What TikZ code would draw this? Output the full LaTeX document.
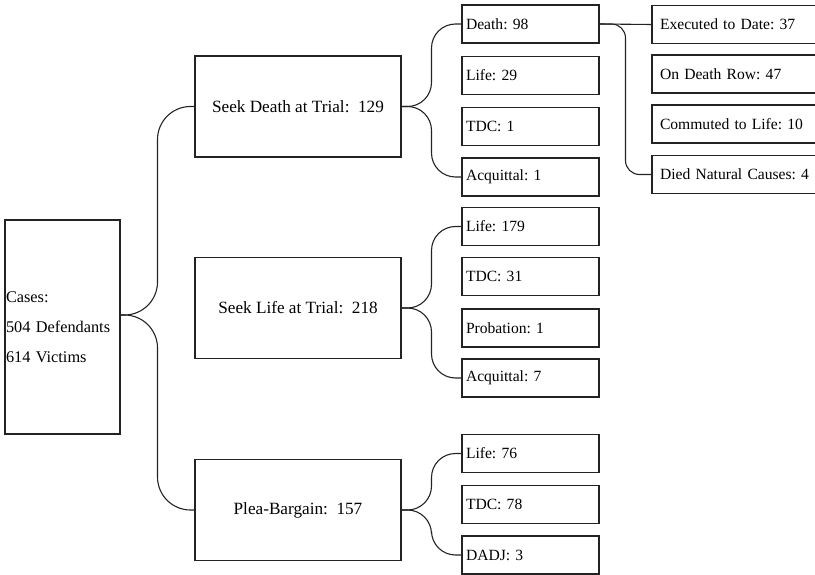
\documentclass[tikz,border=0pt]{standalone}
\usepackage{fontspec}
\setmainfont{Liberation Serif}
\frenchspacing
\usepackage{tikz}
\usetikzlibrary{positioning, calc}
\definecolor{linegray}{RGB}{35,35,35}
\tikzstyle{box} = [rectangle, draw=linegray, line width=1.1pt, font=\fontsize{15.6}{18}\selectfont]
\tikzstyle{root} = [box, text width=113pt, inner xsep=1pt, minimum height=214pt, align=left, font=\fontsize{16.3}{30}\selectfont]
\tikzstyle{branch} = [box, minimum width=206pt, minimum height=101pt, text centered, font=\fontsize{17.2}{20}\selectfont]
\tikzstyle{leaf} = [box, text width=129pt, inner xsep=4pt, minimum height=38pt, align=left]
\tikzstyle{outcome} = [box, text width=159pt, inner xsep=8pt, minimum height=38pt, align=left]
\tikzstyle{brace} = [line width=1.1pt, draw=linegray]

\begin{document}
\begin{tikzpicture}[x=1pt, y=-1pt]
\useasboundingbox (0,0) rectangle (815,575);
\clip (0,0) rectangle (815,575);

% Cases
\node[root] (cases) at (62.5,327) {Cases:\\504 Defendants\\614 Victims};

% Decisions
\node[branch] (seekdeath) at (298,106.5) {Seek Death at Trial:~~129};
\node[branch] (seeklife) at (298,308) {Seek Life at Trial:~~218};
\node[branch] (plea) at (298,510) {Plea-Bargain:~~157};

% Death trials
\node[leaf] (d_death) at (530.5,24) {Death: 98};
\node[leaf] (d_life) at (530.5,75.5) {Life: 29};
\node[leaf] (d_tdc) at (530.5,126.5) {TDC: 1};
\node[leaf] (d_acq) at (530.5,177) {Acquittal: 1};

% Life trials
\node[leaf] (l_life) at (530.5,226.5) {Life: 179};
\node[leaf] (l_tdc) at (530.5,276.5) {TDC: 31};
\node[leaf] (l_prob) at (530.5,328) {Probation: 1};
\node[leaf] (l_acq) at (530.5,378) {Acquittal: 7};

% Plea bargains
\node[leaf] (p_life) at (530.5,453.5) {Life: 76};
\node[leaf] (p_tdc) at (530.5,504.5) {TDC: 78};
\node[leaf] (p_dadj) at (530.5,555) {DADJ: 3};

% Death sentences
\node[outcome] (x_exec) at (739.5,24.5) {Executed to Date: 37};
\node[outcome] (x_row) at (739.5,74) {On Death Row: 47};
\node[outcome] (x_comm) at (739.5,124) {Commuted to Life: 10};
\node[outcome] (x_died) at (739.5,174.5) {Died Natural Causes: 4};

% Braces
\coordinate (casestip) at ([yshift=12pt]cases.east);
\coordinate (cmid) at ($(casestip)!0.5!(casestip -| seekdeath.west)$);
\draw[brace, rounded corners=33pt] (seekdeath.west) -| (cmid) -- (casestip);
\draw[brace, rounded corners=33pt] (plea.west) -| (cmid) -- (casestip);

\coordinate (sdmid) at ($(seekdeath.east)!0.5!(seekdeath.east -| d_death.west)$);
\draw[brace, rounded corners=24pt] (d_death.west) -| (sdmid) -- (seekdeath.east);
\draw[brace, rounded corners=24pt] (d_acq.west) -| (sdmid) -- (seekdeath.east);

\coordinate (slmid) at ($(seeklife.east)!0.5!(seeklife.east -| l_life.west)$);
\draw[brace, rounded corners=24pt] (l_life.west) -| (slmid) -- (seeklife.east);
\draw[brace, rounded corners=24pt] (l_acq.west) -| (slmid) -- (seeklife.east);

\coordinate (pmid) at ($(plea.east)!0.5!(plea.east -| p_life.west)$);
\draw[brace, rounded corners=24pt] (p_life.west) -| (pmid) -- (plea.east);
\draw[brace, rounded corners=24pt] (p_dadj.west) -| (pmid) -- (plea.east);

\coordinate (ddmid) at ($(d_death.east)!0.5!(d_death.east -| x_exec.west)$);
\draw[brace] (d_death.east) -- (x_exec.west);
\draw[brace, rounded corners=14pt] (x_died.west) -| (ddmid) -- (d_death.east);

\end{tikzpicture}
\end{document}
